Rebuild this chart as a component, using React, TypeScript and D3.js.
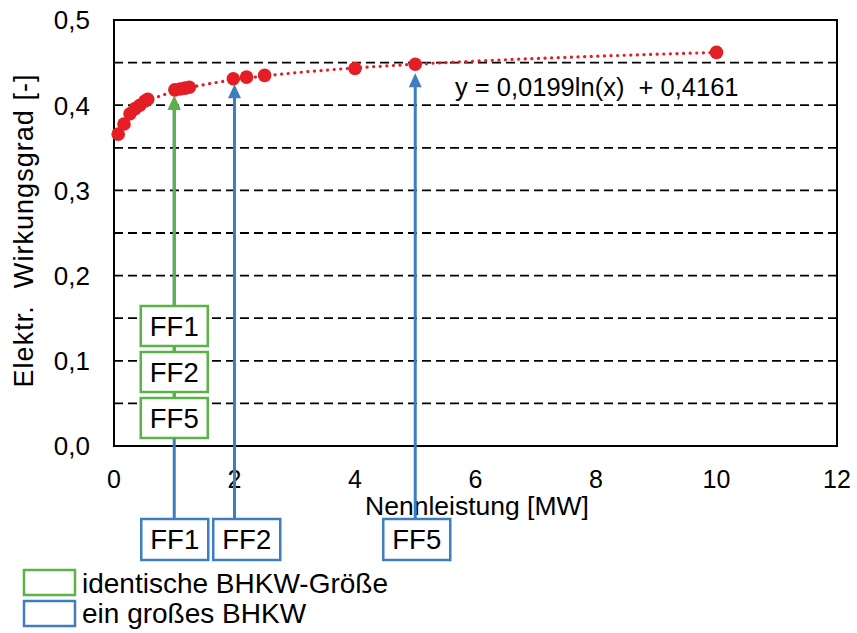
import React from "react";
import * as d3 from "d3";

// ---- data ----
const powerMW = [0.07, 0.166, 0.266, 0.35, 0.43, 0.515, 0.56, 1.01, 1.1, 1.18, 1.25, 1.98, 2.2, 2.5, 4.0, 5.0, 10.0];
const efficiency = [0.366, 0.378, 0.39, 0.396, 0.4, 0.405, 0.407, 0.418, 0.419, 0.42, 0.421, 0.431, 0.433, 0.435, 0.443, 0.448, 0.462];
const trendA = 0.0199;
const trendB = 0.4161;
const xTicks = [0, 2, 4, 6, 8, 10, 12];
const yTicks = [0, 0.1, 0.2, 0.3, 0.4, 0.5];
const gridValues = [0.05, 0.1, 0.15, 0.2, 0.25, 0.3, 0.35, 0.4, 0.45, 0.5];
const identLabels = ["FF1", "FF2", "FF5"];
const bigLabels = ["FF1", "FF2", "FF5"];
const bigArrowX = [1, 2, 5];
const bigArrowTip = [0.411, 0.4245, 0.4375];
const identArrowX = 1;
const identArrowTip = 0.411;
const legendLabels = ["identische BHKW-Größe", "ein großes BHKW"];
const equationText = "y = 0,0199ln(x)  + 0,4161";
const xTitle = "Nennleistung [MW]";
const yTitle = "Elektr.  Wirkungsgrad [-]";

const GREEN = "#5BB347";
const BLUE = "#3D7EBF";
const RED = "#E31E24";
const FONT = "'Liberation Sans', Arial, sans-serif";

export default function App() {
  const W = 857, H = 633;
  const L = 114, R = 837, T = 20, B = 446;
  const x = d3.scaleLinear().domain([0, 12]).range([L, R]);
  const y = d3.scaleLinear().domain([0, 0.5]).range([B, T]);
  const fmt = (v: number) => d3.format(".1f")(v).replace(".", ",");

  const trendXs = d3.range(0, 201).map((i) => 0.07 * Math.pow(10 / 0.07, i / 200));
  const trendPath = d3.line<number>()
    .x((d) => x(d))
    .y((d) => y(trendA * Math.log(d) + trendB))(trendXs) || "";

  const arrowHead = (cx: number, tipY: number, color: string) => (
    <path d={`M${cx},${tipY} L${cx - 6.5},${tipY + 14} L${cx + 6.5},${tipY + 14} Z`} fill={color} />
  );

  const gBoxW = 67, gBoxH = 40, gGap = 6;
  const gBottom = 438;
  const gx = x(identArrowX);
  const bTop = 519, bBoxH = 41, bBoxW = 67;
  const blueBoxCx = [x(bigArrowX[0]) + 0.5, x(bigArrowX[0]) + 0.5 + 72, x(bigArrowX[2]) + 1.5];

  return (
    <svg width={W} height={H} style={{ position: "absolute", left: 0, top: 0, background: "#fff" }} fontFamily={FONT}>
      <rect x={0} y={0} width={W} height={H} fill="#fff" />
      {gridValues.map((g) => (
        <line key={g} x1={L} x2={R} y1={y(g)} y2={y(g)} stroke="#000" strokeWidth={1.8} strokeDasharray="9 5" />
      ))}
      <rect x={L} y={T} width={R - L} height={B - T} fill="none" stroke="#000" strokeWidth={2} />

      {yTicks.map((t) => (
        <text key={t} x={90} y={y(t)} dy="0.36em" textAnchor="end" fontSize={26} fill="#000">{fmt(t)}</text>
      ))}
      {xTicks.map((t) => (
        <text key={t} x={x(t)} y={488} textAnchor="middle" fontSize={25} fill="#000">{t}</text>
      ))}
      <text x={477} y={515} textAnchor="middle" fontSize={26.5} fill="#000">{xTitle}</text>
      <text transform={`translate(33,231) rotate(-90)`} textAnchor="middle" fontSize={27} fill="#000"
        textLength={313} lengthAdjust="spacing" style={{ whiteSpace: "pre" }}>{yTitle}</text>

      {bigArrowX.map((v, i) => (
        <g key={i}>
          <line x1={x(v)} x2={x(v)} y1={bTop} y2={y(bigArrowTip[i]) + 10} stroke={BLUE} strokeWidth={3} />
          {arrowHead(x(v), y(bigArrowTip[i]), BLUE)}
        </g>
      ))}
      <line x1={gx} x2={gx} y1={gBottom} y2={y(identArrowTip) + 10} stroke={GREEN} strokeWidth={3} />
      {arrowHead(gx, y(identArrowTip), GREEN)}

      <path d={trendPath} fill="none" stroke={RED} strokeWidth={3.2} strokeDasharray="0.1 6.5" strokeLinecap="round" />
      {powerMW.map((p, i) => (
        <circle key={i} cx={x(p)} cy={y(efficiency[i])} r={6.8} fill={RED} />
      ))}

      <text x={455} y={96} fontSize={25.5} fill="#000" style={{ whiteSpace: "pre" }}>{equationText}</text>

      {identLabels.map((lab, i) => {
        const top = gBottom - (identLabels.length - i) * gBoxH - (identLabels.length - 1 - i) * gGap;
        return (
          <g key={lab}>
            <rect x={gx - gBoxW / 2} y={top} width={gBoxW} height={gBoxH} fill="#fff" stroke={GREEN} strokeWidth={2.5} />
            <text x={gx} y={top + gBoxH / 2} dy="0.36em" textAnchor="middle" fontSize={27.5} fill="#000">{lab}</text>
          </g>
        );
      })}

      {bigLabels.map((lab, i) => (
        <g key={lab}>
          <rect x={blueBoxCx[i] - bBoxW / 2} y={bTop} width={bBoxW} height={bBoxH} fill="#fff" stroke={BLUE} strokeWidth={2.5} />
          <text x={blueBoxCx[i]} y={bTop + bBoxH / 2} dy="0.36em" textAnchor="middle" fontSize={27.5} fill="#000">{lab}</text>
        </g>
      ))}

      {legendLabels.map((lab, i) => (
        <g key={lab}>
          <rect x={24} y={570 + i * 31} width={51} height={25} fill="#fff" stroke={i === 0 ? GREEN : BLUE} strokeWidth={2.5} />
          <text x={82} y={593 + i * 30} fontSize={28} fill="#000">{lab}</text>
        </g>
      ))}
    </svg>
  );
}
